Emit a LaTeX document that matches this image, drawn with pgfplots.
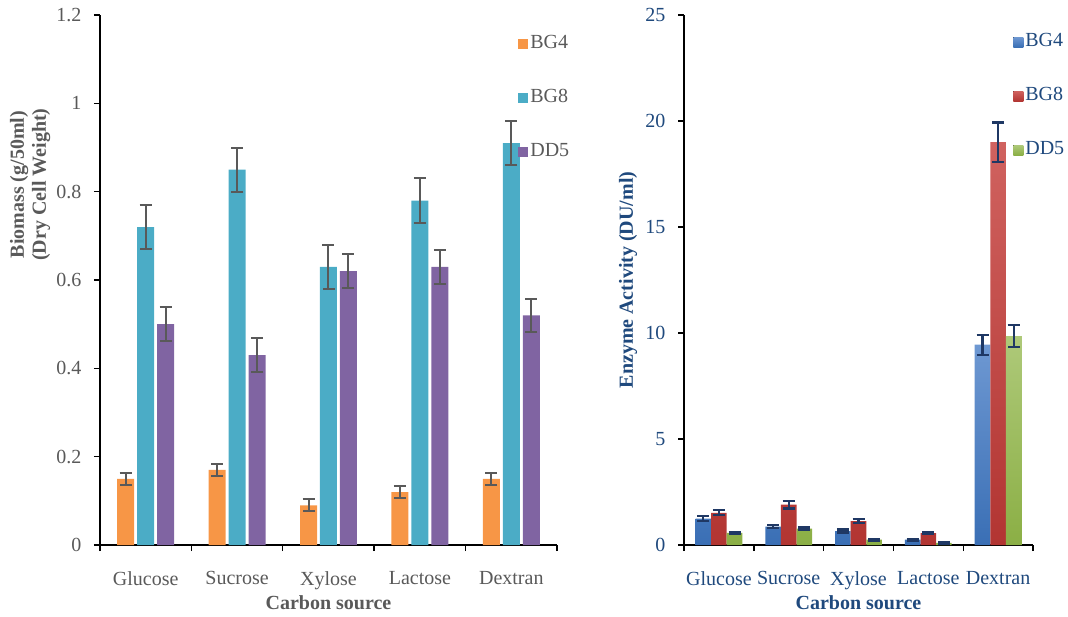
\documentclass[border=0pt]{standalone}
\usepackage{fontspec}
\setmainfont{Liberation Serif}
\usepackage{pgfplots}
\usepackage{pgfplotstable}
\pgfplotsset{compat=1.18}
\definecolor{txtgray}{HTML}{595959}
\definecolor{navy}{HTML}{1F497D}
\definecolor{cOrange}{HTML}{F79646}
\definecolor{cTeal}{HTML}{4BACC6}
\definecolor{cPurple}{HTML}{8064A2}
\definecolor{errnavy}{HTML}{1F3864}
\definecolor{bTop}{HTML}{6E98D2}
\definecolor{bBot}{HTML}{3A6FB5}
\definecolor{rTop}{HTML}{D0625F}
\definecolor{rBot}{HTML}{B23532}
\definecolor{gTop}{HTML}{AEC979}
\definecolor{gBot}{HTML}{8BAF45}

% Biomass (g/50ml)
\pgfplotstableread{
x y e
0 0.15 0.014
1 0.17 0.014
2 0.09 0.014
3 0.12 0.014
4 0.15 0.014
}\LBGfour
\pgfplotstableread{
x y e
0 0.72 0.05
1 0.85 0.05
2 0.63 0.05
3 0.78 0.05
4 0.91 0.05
}\LBGeight
\pgfplotstableread{
x y e
0 0.50 0.038
1 0.43 0.038
2 0.62 0.038
3 0.63 0.038
4 0.52 0.038
}\LDDfive
% Enzyme activity (DU/ml)
\pgfplotstableread{
x y e
0 1.25 0.10
1 0.87 0.08
2 0.66 0.07
3 0.25 0.05
4 9.45 0.47
}\RBGfour
\pgfplotstableread{
x y e
0 1.52 0.12
1 1.90 0.18
2 1.13 0.10
3 0.56 0.05
4 19.0 0.93
}\RBGeight
\pgfplotstableread{
x y e
0 0.57 0.05
1 0.77 0.06
2 0.25 0.04
3 0.10 0.03
4 9.85 0.52
}\RDDfive

\pgfplotsset{
  mybase/.style={
    scale only axis,
    xmin=-0.5, xmax=4.5, ymin=0,
    axis x line*=bottom, axis y line*=left,
    axis line style={line width=1.6pt, black},
    every tick/.style={black, line width=1.4pt},
    tick align=outside,
    major tick length=6pt,
    xtick={-0.5,0.5,1.5,2.5,3.5,4.5},
    xticklabels={},
    extra x ticks={0,1,2,3,4},
    extra x tick labels={Glucose,Sucrose,Xylose,Lactose,Dextran},
    extra x tick style={major tick length=0pt, tick label style={yshift=-23pt}},
    tick label style={font=\fontsize{20}{22}\selectfont},
    yticklabel style={xshift=-9pt},
    /pgf/number format/assume math mode=true,
    label style={font=\fontsize{20}{22}\selectfont\bfseries},
    xlabel={Carbon source},
    xlabel style={at={(axis description cs:0.5,0)}, anchor=center, yshift=-58pt},
    legend image code/.code={\fill[##1] (0pt,-5pt) rectangle (10pt,5pt);},
    legend style={draw=none, fill=none, inner sep=0pt, anchor=north west,
      row sep=33pt, font=\fontsize{20}{22}\selectfont,
      cells={anchor=west},
      nodes={inner sep=2pt, text height=13pt, text depth=4pt}},
  },
}

\begin{document}
\begin{tikzpicture}
\useasboundingbox (0pt,0pt) rectangle (1068pt,-616pt);
% ---------------- left chart ----------------
\begin{axis}[
  mybase,
  at={(100pt,-545pt)}, anchor=south west,
  width=457pt, height=530pt,
  ymax=1.2,
  ytick={0,0.2,0.4,0.6,0.8,1,1.2},
  yticklabel style={/pgf/number format/.cd, fixed, precision=1},
  tick label style={text=txtgray},
  label style={text=txtgray},
  ylabel={Biomass (g/50ml)\\(Dry Cell Weight)},
  ylabel style={align=center, at={(axis description cs:-0.153,0.68)}, anchor=center},
  legend style={at={(axis description cs:0.915,0.965)}, text=txtgray},
  error bars/error bar style={line width=2pt, txtgray},
  error bars/error mark options={rotate=90, mark size=6pt, line width=2pt, txtgray},
]
\addplot[ybar, bar width=17pt, bar shift=0pt, fill=cOrange, draw=none,
  error bars/y dir=both, error bars/y explicit]
  table[x expr=\thisrow{x}-0.2188, y=y, y error=e] {\LBGfour};
\addlegendentry{BG4}
\addplot[ybar, bar width=17pt, bar shift=0pt, fill=cTeal, draw=none,
  error bars/y dir=both, error bars/y explicit]
  table[x=x, y=y, y error=e] {\LBGeight};
\addlegendentry{BG8}
\addplot[ybar, bar width=17pt, bar shift=0pt, fill=cPurple, draw=none,
  error bars/y dir=both, error bars/y explicit]
  table[x expr=\thisrow{x}+0.2188, y=y, y error=e] {\LDDfive};
\addlegendentry{DD5}
\end{axis}
% ---------------- right chart ----------------
\begin{axis}[
  mybase,
  at={(684pt,-545pt)}, anchor=south west,
  width=349pt, height=530pt,
  ymax=25,
  ytick={0,5,10,15,20,25},
  tick label style={text=navy},
  label style={text=navy},
  ylabel={Enzyme Activity (DU/ml)},
  ylabel style={at={(axis description cs:-0.16,0.5)}, anchor=center},
  legend style={at={(axis description cs:0.943,0.969)}, text=navy},
  error bars/error bar style={line width=2.2pt, errnavy},
  error bars/error mark options={rotate=90, mark size=6pt, line width=2.2pt, errnavy},
]
\addplot[ybar, bar width=15.6pt, bar shift=0pt, top color=bTop, bottom color=bBot, draw=none,
  error bars/y dir=both, error bars/y explicit]
  table[x expr=\thisrow{x}-0.2235, y=y, y error=e] {\RBGfour};
\addlegendentry{BG4}
\addplot[ybar, bar width=15.6pt, bar shift=0pt, top color=rTop, bottom color=rBot, draw=none,
  error bars/y dir=both, error bars/y explicit]
  table[x=x, y=y, y error=e] {\RBGeight};
\addlegendentry{BG8}
\addplot[ybar, bar width=15.6pt, bar shift=0pt, top color=gTop, bottom color=gBot, draw=none,
  error bars/y dir=both, error bars/y explicit]
  table[x expr=\thisrow{x}+0.2235, y=y, y error=e] {\RDDfive};
\addlegendentry{DD5}
\end{axis}
\end{tikzpicture}
\end{document}
